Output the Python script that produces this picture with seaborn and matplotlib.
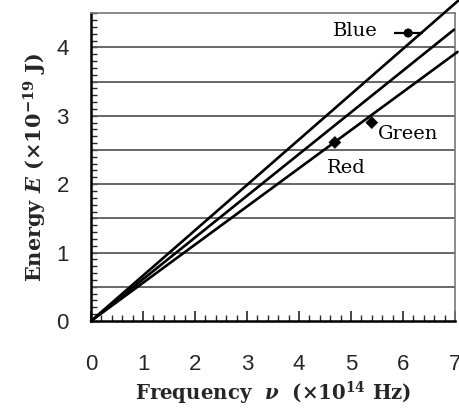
import numpy as np
import pandas as pd
import matplotlib
matplotlib.use("Agg")
import matplotlib.pyplot as plt
import seaborn as sns

# straight lines E = k * nu through the origin (slopes)
line_slopes = [0.663, 0.610, 0.558]
line_x_end = [7.08, 6.98, 7.05]

# measured points
colors = ["Red", "Green", "Blue"]
freq = [4.69, 5.40, 6.10]
energy = [2.61, 2.90, 4.21]
freq_err = [0.0, 0.0, 0.28]
markers = ["D", "D", "o"]

sns.set_style("white")
plt.rcParams["mathtext.fontset"] = "custom"
plt.rcParams["mathtext.rm"] = "DejaVu Serif:bold"
plt.rcParams["mathtext.it"] = "DejaVu Serif:italic:bold"

rows = []
for i, (k, xe) in enumerate(zip(line_slopes, line_x_end)):
    rows.append({"line": i, "nu": 0.0, "E": 0.0})
    rows.append({"line": i, "nu": xe, "E": k * xe})
lines = pd.DataFrame(rows)
pts = pd.DataFrame({"color": colors, "nu": freq, "E": energy, "err": freq_err})

fig = plt.figure(figsize=(4.6, 4.12), dpi=100)
ax = fig.add_axes([0.198, 0.221, 0.791, 0.747])

for y in np.arange(0.5, 4.01, 0.5):
    ax.axhline(y, color="#5a5a5a", lw=1.3, zorder=1)

sns.lineplot(data=lines, x="nu", y="E", units="line", estimator=None,
             color="black", lw=1.9, ax=ax, legend=False, zorder=3)
for l in ax.lines[-3:]:
    l.set_clip_on(False)

ax.errorbar(pts["nu"], pts["E"], xerr=pts["err"], fmt="none",
            ecolor="black", elinewidth=1.6, capsize=0, zorder=4)
sns.scatterplot(data=pts, x="nu", y="E", style="color",
                markers=dict(zip(colors, markers)), s=36, color="black",
                edgecolor="black", ax=ax, zorder=5, legend=False)

lab_font = dict(family="DejaVu Serif", fontsize=14, color="black")
ax.text(5.52, 4.24, "Blue", ha="right", va="center", **lab_font)
ax.text(5.52, 2.74, "Green", ha="left", va="center", **lab_font)
ax.text(4.54, 2.24, "Red", ha="left", va="center", **lab_font)

ax.set_xlim(0, 7)
ax.set_ylim(0, 4.5)
ax.set_xticks(range(0, 8))
ax.set_yticks(range(0, 5))
ax.set_xticks(np.arange(0, 7.01, 0.2), minor=True)
ax.set_yticks(np.arange(0, 4.51, 0.1), minor=True)
ax.tick_params(axis="x", which="major", direction="in", length=7, width=1.2,
               pad=24, labelsize=16, bottom=True)
ax.tick_params(axis="x", which="minor", direction="in", length=4.5, width=1.0,
               bottom=True)
ax.tick_params(axis="y", which="major", direction="in", length=4.5, width=1.0,
               pad=16, labelsize=16, left=True)
ax.tick_params(axis="y", which="minor", direction="in", length=4.5, width=1.0,
               left=True)
for t in ax.get_xticklabels() + ax.get_yticklabels():
    t.set_family("Liberation Sans")

ax.set_xlabel(r"Frequency  $\nu$  (×10$^{14}$ Hz)", family="DejaVu Serif",
              fontweight="bold", fontsize=14.2, labelpad=3)
ax.set_ylabel(r"Energy $E$ (×10$^{-19}$ J)", family="DejaVu Serif",
              fontweight="bold", fontsize=15, labelpad=5)

for side in ["left", "bottom"]:
    ax.spines[side].set_color("black")
    ax.spines[side].set_linewidth(1.8)
for side in ["top", "right"]:
    ax.spines[side].set_color("#777777")
    ax.spines[side].set_linewidth(1.2)

fig.savefig("out.png", dpi=100)
